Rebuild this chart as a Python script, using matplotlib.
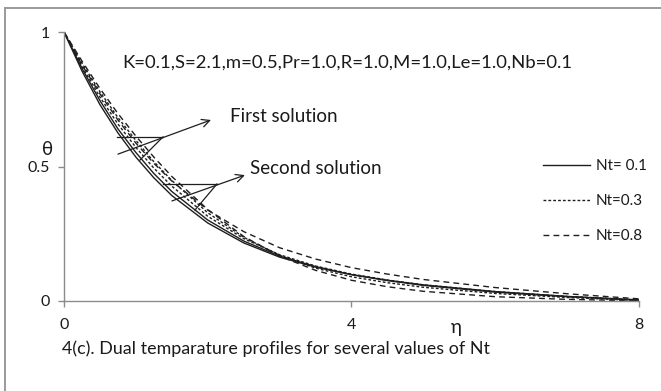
import matplotlib
matplotlib.use("Agg")
import matplotlib.pyplot as plt
from matplotlib.lines import Line2D

plt.rcParams['font.family'] = ['Lato', 'DejaVu Sans']

# ---- data ----
eta = [0, 0.25, 0.5, 0.75, 1, 1.25, 1.5, 2, 2.5, 3, 3.5, 4, 4.5, 5, 6, 7, 8]

# Nt = 0.1 (solid)
nt01_a = [1, 0.855, 0.73, 0.625, 0.535, 0.458, 0.392, 0.29, 0.216, 0.163, 0.126, 0.098, 0.077, 0.06, 0.035, 0.017, 0.004]
nt01_b = [1, 0.865, 0.745, 0.64, 0.552, 0.474, 0.407, 0.301, 0.223, 0.167, 0.128, 0.098, 0.076, 0.058, 0.033, 0.016, 0.003]
# Nt = 0.3 (dotted)
nt03_a = [1, 0.872, 0.758, 0.658, 0.571, 0.494, 0.427, 0.315, 0.232, 0.172, 0.13, 0.1, 0.078, 0.06, 0.035, 0.017, 0.004]
nt03_b = [1, 0.884, 0.778, 0.682, 0.597, 0.518, 0.448, 0.328, 0.237, 0.17, 0.122, 0.09, 0.068, 0.051, 0.028, 0.013, 0.002]
# Nt = 0.8 (dashed)
nt08_a = [1, 0.878, 0.77, 0.673, 0.587, 0.512, 0.446, 0.338, 0.258, 0.198, 0.156, 0.124, 0.1, 0.08, 0.05, 0.027, 0.008]
nt08_b = [1, 0.892, 0.79, 0.697, 0.613, 0.535, 0.463, 0.34, 0.24, 0.167, 0.114, 0.077, 0.053, 0.036, 0.016, 0.006, 0.001]

legend_labels = ['Nt= 0.1', 'Nt=0.3', 'Nt=0.8']
x_ticks = [0, 4, 8]
y_ticks = [0, 0.5, 1]
y_ticklabels = ['0', '0.5', '1']
params_text = 'K=0.1,S=2.1,m=0.5,Pr=1.0,R=1.0,M=1.0,Le=1.0,Nb=0.1'
caption = '4(c). Dual temparature profiles for several values of Nt'

# ---- figure ----
W, H = 661, 391
fig = plt.figure(figsize=(W / 100, H / 100), dpi=100)
fig.patch.set_facecolor('white')

ax = fig.add_axes([64 / W, 1 - 301 / H, (639 - 64) / W, (301 - 32) / H])
ax.set_xlim(0, 8)
ax.set_ylim(0, 1)

lc = '#1e1e1e'
solid = dict(color=lc, lw=1.0, linestyle='-')
dotted = dict(color=lc, lw=1.0, linestyle=(0, (2.0, 1.5)))
dashed = dict(color=lc, lw=1.0, linestyle=(0, (4.2, 3.0)))

h1, = ax.plot(eta, nt01_a, **solid)
ax.plot(eta, nt01_b, **solid)
h2, = ax.plot(eta, nt03_a, **dotted)
ax.plot(eta, nt03_b, **dotted)
h3, = ax.plot(eta, nt08_a, **dashed)
ax.plot(eta, nt08_b, **dashed)

for s in ['top', 'right']:
    ax.spines[s].set_visible(False)
for s in ['left', 'bottom']:
    ax.spines[s].set_color('#8c8c8c')
    ax.spines[s].set_linewidth(1.0)

ax.set_xticks(x_ticks)
ax.set_xticklabels([str(t) for t in x_ticks])
ax.set_yticks(y_ticks)
ax.set_yticklabels(y_ticklabels)
ax.tick_params(axis='both', direction='out', length=4, width=1.0, color='#8c8c8c',
               labelsize=11.5, labelcolor='#1a1a1a')
ax.tick_params(axis='x', pad=8)
ax.tick_params(axis='y', pad=6)

# axis titles
ax.text(5.46, -0.097, 'η', fontsize=13.5, ha='center', va='center', color='#1a1a1a')
ax.text(-0.235, 0.562, 'θ', fontsize=13.5, ha='center', va='center', color='#1a1a1a')

# parameter text
ax.text(0.81, 0.887, params_text, fontsize=13.3, ha='left', va='center', color='#1a1a1a')

# annotations
ax.text(2.31, 0.687, 'First solution', fontsize=13.5, ha='left', va='center', color='#1a1a1a')
ax.text(2.59, 0.494, 'Second solution', fontsize=13.5, ha='left', va='center', color='#1a1a1a')

alw = 0.9
# first solution pointers
ax.plot([0.737, 1.377], [0.610, 0.610], color=lc, lw=alw)
ax.plot([1.377, 1.057], [0.610, 0.524], color=lc, lw=alw)
ax.annotate('', xy=(2.045, 0.673), xytext=(0.751, 0.546),
            arrowprops=dict(arrowstyle='->', color=lc, lw=alw, mutation_scale=14,
                            shrinkA=0, shrinkB=0))
# second solution pointers
ax.plot([1.377, 2.128], [0.435, 0.435], color=lc, lw=alw)
ax.plot([2.128, 1.822], [0.435, 0.338], color=lc, lw=alw)
ax.annotate('', xy=(2.517, 0.468), xytext=(1.502, 0.372),
            arrowprops=dict(arrowstyle='->', color=lc, lw=alw, mutation_scale=14,
                            shrinkA=0, shrinkB=0))

# legend
leg = ax.legend([h1, h2, h3], legend_labels, loc='upper left',
                bbox_to_anchor=((543 - 64) / (639 - 64), (301 - 159) / 269),
                frameon=False, fontsize=11, handlelength=3.1, handletextpad=0.35,
                labelspacing=1.38, borderaxespad=0, borderpad=0)
for t in leg.get_texts():
    t.set_color('#1a1a1a')

# caption
fig.text(62 / W, 1 - 349 / H, caption, fontsize=12.9, ha='left', va='center', color='#1a1a1a')

# outer frame (top and left edges, cropped on the other sides)
fig.add_artist(Line2D([4.5 / W, 4.5 / W], [0, 1 - 8 / H], transform=fig.transFigure,
                      color='#9a9a9a', lw=1.4))
fig.add_artist(Line2D([4.5 / W, 1], [1 - 8 / H, 1 - 8 / H], transform=fig.transFigure,
                      color='#9a9a9a', lw=1.4))

fig.savefig('out.png', dpi=100)
